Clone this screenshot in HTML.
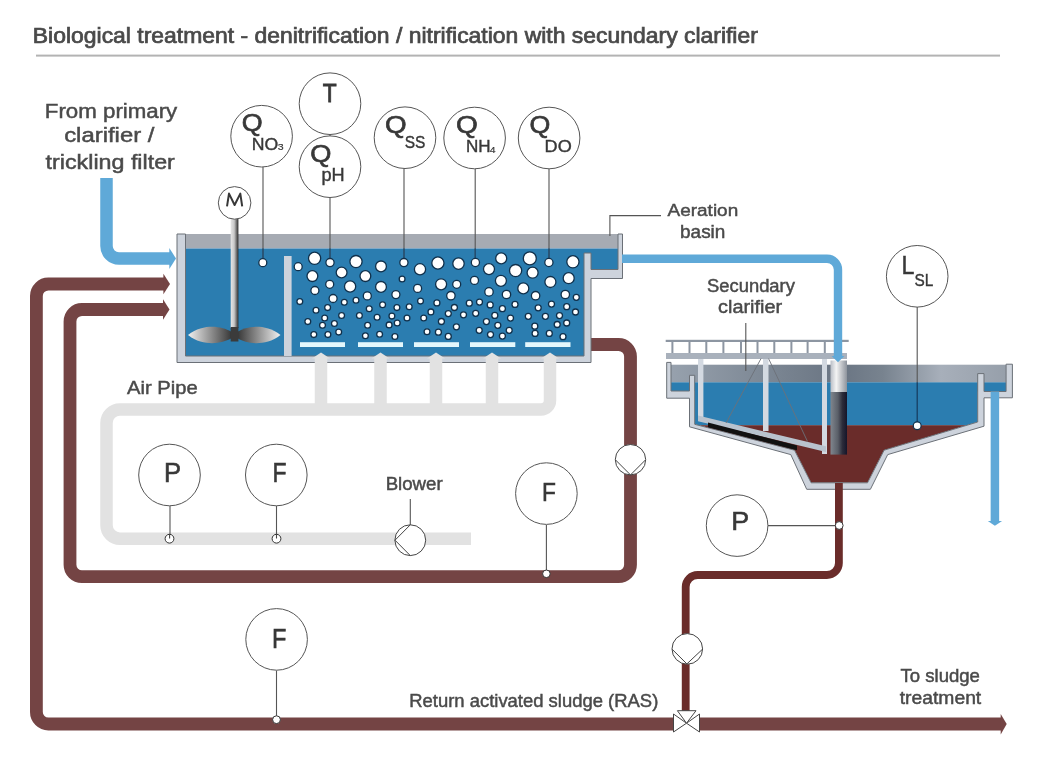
<!DOCTYPE html>
<html><head><meta charset="utf-8">
<style>
html,body{margin:0;padding:0;background:#fff;}
body{width:1050px;height:761px;overflow:hidden;position:relative;}
svg{position:absolute;left:0;top:0;will-change:transform;}
text{font-family:"Liberation Sans",sans-serif;fill:#4a4a4a;}
</style></head><body>
<svg width="1050" height="761" viewBox="0 0 1050 761">
<defs>
<linearGradient id="shaft" x1="0" x2="1" y1="0" y2="0">
<stop offset="0" stop-color="#e6e6e6"/><stop offset="0.45" stop-color="#c8c8c8"/><stop offset="1" stop-color="#2a2a2a"/>
</linearGradient>
<linearGradient id="bladeL" x1="0" x2="1" y1="0" y2="0">
<stop offset="0" stop-color="#f0f0f0"/><stop offset="1" stop-color="#3a3a3a"/>
</linearGradient>
<linearGradient id="bladeR" x1="1" x2="0" y1="0" y2="0">
<stop offset="0" stop-color="#f0f0f0"/><stop offset="1" stop-color="#3a3a3a"/>
</linearGradient>
<linearGradient id="cband" x1="0" x2="1" y1="0" y2="0">
<stop offset="0" stop-color="#9aa4b0"/><stop offset="0.35" stop-color="#77828f"/><stop offset="0.5" stop-color="#6a7583"/><stop offset="0.62" stop-color="#78838f"/><stop offset="0.78" stop-color="#a7afba"/><stop offset="1" stop-color="#939ca7"/>
</linearGradient>
<linearGradient id="colL" x1="0" x2="1" y1="0" y2="0">
<stop offset="0" stop-color="#b9bec6"/><stop offset="0.35" stop-color="#f4f4f4"/><stop offset="1" stop-color="#8d939c"/>
</linearGradient>
<linearGradient id="colD" x1="0" x2="1" y1="0" y2="0">
<stop offset="0" stop-color="#80868e"/><stop offset="0.45" stop-color="#5a5f68"/><stop offset="0.72" stop-color="#2c2c3a"/><stop offset="1" stop-color="#15152a"/>
</linearGradient>
<clipPath id="cin"><polygon points="671,364.4 1006.1,364.4 1006.1,391.5 977.7,391.5 977.7,422 884.1,450.2 867.5,482.8 811.1,482.8 794.5,450.2 694.7,424.3 694.7,391 671,391"/></clipPath>
</defs>

<!-- title -->
<rect x="36" y="54.6" width="964" height="2" fill="#b3b3b3"/>

<!-- brown loops -->
<g fill="none" stroke="#744444" stroke-width="12.8">
<path d="M164,284 H48.5 A12,12 0 0 0 36.4,296 V712 A12,12 0 0 0 48.5,724 H673.5 M699.5,724 H1001"/>
<path d="M590,344.5 H618.5 A12,12 0 0 1 630.5,356.5 V564.7 A12,12 0 0 1 618.5,576.7 H82 A12,12 0 0 1 70,564.7 V321.5 A12,12 0 0 1 82,309.5 H164"/>
</g>
<g fill="#744444">
<polygon points="163.4,273.7 170,284 163.4,294.3"/>
<polygon points="163,299.2 169.5,309.5 163,319.8"/>
<polygon points="1000.7,714 1006.7,724 1000.7,734.5"/>
</g>

<!-- blue pipes -->
<g fill="none" stroke="#5fa9d8">
<path d="M106.5,178 V246 A12.5,12.5 0 0 0 119,258.5 H170" stroke-width="12.5"/>
</g>
<g fill="#5fa9d8">
<polygon points="169.3,248 176,258.5 169.3,269"/>
<polygon points="987.8,521 994.9,525.8 1002.1,521"/>
</g>

<!-- aeration basin -->
<rect x="185.5" y="234" width="432.5" height="14.5" fill="#a6abb3"/>
<rect x="185.5" y="248.5" width="398.5" height="107.5" fill="#2b7db0"/>
<rect x="584" y="248.5" width="34" height="21" fill="#2b7db0"/>
<rect x="185.5" y="248" width="432.5" height="1" fill="#7fa9c8"/>
<path d="M177,234 H185.5 V356 H584 V253 H591 V269.5 H618 V234 H622.5 V278.5 H591 V362.5 H177 Z" fill="#cdd3dc" stroke="#6b7077" stroke-width="1"/>
<rect x="284" y="256" width="7.6" height="100" fill="#cdd3dc"/>
<!-- diffusers -->
<g fill="#e4f7fc">
<rect x="300" y="342.2" width="45" height="4.8"/>
<rect x="358" y="342.2" width="45" height="4.8"/>
<rect x="414" y="342.2" width="45" height="4.8"/>
<rect x="470" y="342.2" width="45.3" height="4.8"/>
<rect x="525.2" y="342.2" width="45.3" height="4.8"/>
</g>
<!-- bubbles -->
<g fill="#fff" stroke="#10304b" stroke-width="1.3">
<circle cx="298.2" cy="266.7" r="4"/>
<circle cx="314.6" cy="258.3" r="6.1"/>
<circle cx="356" cy="261.6" r="6.1"/>
<circle cx="381" cy="266.4" r="5.4"/>
<circle cx="420" cy="269.3" r="5.6"/>
<circle cx="312.4" cy="276.1" r="5.4"/>
<circle cx="341.6" cy="272.5" r="5.4"/>
<circle cx="365.4" cy="276.1" r="5.4"/>
<circle cx="402.1" cy="279" r="2.9"/>
<circle cx="329.7" cy="284.3" r="4"/>
<circle cx="350.1" cy="286.5" r="5.6"/>
<circle cx="381" cy="286.9" r="5.4"/>
<circle cx="314.9" cy="290.5" r="4"/>
<circle cx="417.6" cy="288.4" r="4"/>
<circle cx="367.3" cy="295.9" r="4"/>
<circle cx="395.9" cy="294.6" r="4"/>
<circle cx="299.8" cy="301.6" r="2.9"/>
<circle cx="333.1" cy="298.5" r="4"/>
<circle cx="344.3" cy="302.2" r="2.9"/>
<circle cx="356" cy="300.3" r="2.9"/>
<circle cx="382.6" cy="304.7" r="2.9"/>
<circle cx="420.5" cy="301.1" r="2.9"/>
<circle cx="316" cy="310.3" r="2.9"/>
<circle cx="327.6" cy="307.6" r="2.9"/>
<circle cx="369.2" cy="308.7" r="2.9"/>
<circle cx="396.9" cy="307.6" r="2.9"/>
<circle cx="409.2" cy="306.7" r="2.9"/>
<circle cx="430.9" cy="311.9" r="2.9"/>
<circle cx="307.8" cy="321.6" r="2.9"/>
<circle cx="324.7" cy="318" r="2.9"/>
<circle cx="341.6" cy="315.5" r="2.9"/>
<circle cx="359.4" cy="315.5" r="2.9"/>
<circle cx="377.1" cy="317.3" r="2.9"/>
<circle cx="391.9" cy="316.1" r="2.9"/>
<circle cx="407" cy="318" r="2.9"/>
<circle cx="423.7" cy="318" r="2.9"/>
<circle cx="322.5" cy="325.2" r="2.9"/>
<circle cx="334.4" cy="323.5" r="2.9"/>
<circle cx="367.6" cy="325.3" r="2.9"/>
<circle cx="389.1" cy="324.9" r="2.9"/>
<circle cx="397.2" cy="323" r="2.9"/>
<circle cx="313.8" cy="334.6" r="2.9"/>
<circle cx="327.9" cy="334.6" r="2.9"/>
<circle cx="338.7" cy="332.1" r="2.9"/>
<circle cx="365.4" cy="335.8" r="2.9"/>
<circle cx="379.6" cy="334.3" r="2.9"/>
<circle cx="394.9" cy="336.5" r="2.9"/>
<circle cx="427" cy="331.7" r="2.9"/>
<circle cx="437.9" cy="263" r="6.1"/>
<circle cx="458.5" cy="263.6" r="5.7"/>
<circle cx="501.2" cy="258.4" r="5.5"/>
<circle cx="489" cy="269.1" r="5.5"/>
<circle cx="515.6" cy="270.6" r="6.1"/>
<circle cx="529.8" cy="258.4" r="6.5"/>
<circle cx="532.6" cy="272.7" r="5.5"/>
<circle cx="572.9" cy="261.8" r="6.1"/>
<circle cx="441.1" cy="284.3" r="5.5"/>
<circle cx="456.7" cy="284.3" r="4"/>
<circle cx="474.5" cy="280.4" r="4"/>
<circle cx="500.9" cy="280.8" r="5.5"/>
<circle cx="523.3" cy="288.4" r="5.5"/>
<circle cx="550.4" cy="282" r="5.5"/>
<circle cx="568.7" cy="278.2" r="5.5"/>
<circle cx="450.9" cy="295.7" r="4.2"/>
<circle cx="489" cy="291.9" r="4.2"/>
<circle cx="506.5" cy="294.5" r="4.2"/>
<circle cx="535.6" cy="295.7" r="4.2"/>
<circle cx="565.3" cy="294.5" r="4.2"/>
<circle cx="576.3" cy="297.3" r="3"/>
<circle cx="436.9" cy="302.9" r="3"/>
<circle cx="454.4" cy="307.5" r="3"/>
<circle cx="469.3" cy="303.2" r="3"/>
<circle cx="479.5" cy="302.1" r="3"/>
<circle cx="490.2" cy="304.9" r="3"/>
<circle cx="515" cy="304.4" r="3"/>
<circle cx="551.5" cy="304.1" r="3"/>
<circle cx="566.7" cy="306.7" r="3"/>
<circle cx="448.3" cy="313.6" r="3"/>
<circle cx="463.5" cy="314.8" r="3"/>
<circle cx="475.7" cy="313.3" r="3"/>
<circle cx="502.4" cy="308.7" r="3"/>
<circle cx="494.8" cy="315.4" r="3"/>
<circle cx="510.5" cy="318.1" r="3"/>
<circle cx="538.2" cy="307.8" r="3"/>
<circle cx="528.3" cy="316.3" r="3"/>
<circle cx="545.4" cy="316.3" r="3"/>
<circle cx="559.5" cy="315.6" r="3"/>
<circle cx="575.5" cy="312" r="3"/>
<circle cx="441.4" cy="321.5" r="3"/>
<circle cx="456.4" cy="326.8" r="3"/>
<circle cx="486.4" cy="321.6" r="3"/>
<circle cx="497.8" cy="325.3" r="3"/>
<circle cx="509.2" cy="330.3" r="3"/>
<circle cx="534.8" cy="326.2" r="3"/>
<circle cx="557.2" cy="324.5" r="3"/>
<circle cx="566.7" cy="323" r="3"/>
<circle cx="438.4" cy="332.2" r="3"/>
<circle cx="448.3" cy="336.4" r="3"/>
<circle cx="479.2" cy="330.3" r="3"/>
<circle cx="490.5" cy="334.6" r="3"/>
<circle cx="502.4" cy="336.1" r="3"/>
<circle cx="535.1" cy="333.4" r="3"/>
<circle cx="549.3" cy="333.4" r="3"/>
<circle cx="563" cy="336.7" r="3"/>
</g>
<!-- mixer -->
<rect x="230.7" y="219" width="7.7" height="109" fill="url(#shaft)"/>
<path d="M188,335 C196,328.5 205,326.8 212,326.8 C220,326.8 226,329 231,331.5 L231,338.5 C226,341 220,343.2 212,343.2 C205,343.2 196,341.5 188,335 Z" fill="url(#bladeL)"/>
<path d="M280.5,335 C272.5,328.5 263.5,326.8 256.5,326.8 C248.5,326.8 242.5,329 238,331.5 L238,338.5 C242.5,341 248.5,343.2 256.5,343.2 C263.5,343.2 272.5,341.5 280.5,335 Z" fill="url(#bladeR)"/>
<rect x="230.7" y="327" width="7.7" height="14.5" fill="#3b3b3b"/>

<!-- air pipe -->
<g fill="none" stroke="#e2e2e2" stroke-width="12.5">
<path d="M471,538.7 H120 A13.5,13.5 0 0 1 106.5,525.2 V423 A13.5,13.5 0 0 1 120,409.5 H541 A9,9 0 0 0 550,400.5 V358"/>
<path d="M321,409.5 V358 M380.5,409.5 V358 M436,409.5 V358 M492,409.5 V358"/>
</g>
<g fill="#e2e2e2">
<polygon points="312,358.5 321,352.5 330,358.5"/>
<polygon points="371.5,358.5 380.5,352.5 389.5,358.5"/>
<polygon points="427,358.5 436,352.5 445,358.5"/>
<polygon points="483,358.5 492,352.5 501,358.5"/>
<polygon points="541,358.5 550,352.5 559,358.5"/>
</g>

<!-- sensor lines & balls -->
<g stroke="#555" stroke-width="1.1">
<line x1="263" y1="167" x2="263" y2="259"/>
<line x1="330" y1="134.5" x2="330" y2="136"/>
<line x1="330" y1="197.5" x2="330" y2="259"/>
<line x1="404" y1="168.5" x2="404" y2="259"/>
<line x1="475.2" y1="169" x2="475.2" y2="259"/>
<line x1="549" y1="169" x2="549" y2="259"/>
<line x1="170" y1="506" x2="170" y2="534.5"/>
<line x1="276.5" y1="506" x2="276.5" y2="534.5"/>
<line x1="410.3" y1="499" x2="410.3" y2="525"/>
<line x1="546.4" y1="525" x2="546.4" y2="570"/>
<line x1="276.5" y1="670.5" x2="276.5" y2="716"/>
<line x1="768" y1="525.6" x2="835.5" y2="525.6"/>
<polyline points="661,215.6 609.9,215.6 609.9,236" fill="none"/>
</g>
<g stroke="#184a73" stroke-width="1.2">
<line x1="263" y1="248.5" x2="263" y2="259"/>
<line x1="330" y1="248.5" x2="330" y2="259"/>
<line x1="404" y1="248.5" x2="404" y2="259"/>
<line x1="475.2" y1="248.5" x2="475.2" y2="259"/>
<line x1="549" y1="248.5" x2="549" y2="259"/>
</g>
<g fill="#fff" stroke="#10304b" stroke-width="1.3">
<circle cx="262.8" cy="262.7" r="4"/>
<circle cx="330" cy="262.6" r="4.1"/>
<circle cx="403.9" cy="262.6" r="4.1"/>
<circle cx="475.4" cy="262.5" r="4.1"/>
<circle cx="548.9" cy="262.5" r="4.1"/>
</g>

<!-- clarifier -->
<g>
<rect x="665.7" y="339.8" width="183" height="2.2" fill="#8d96a2"/>
<g fill="#8d96a2">
<rect x="671.4" y="342" width="2" height="11"/><rect x="688.5" y="342" width="2" height="11"/><rect x="705.3" y="342" width="2" height="11"/>
<rect x="722.4" y="342" width="2" height="11"/><rect x="740" y="342" width="2" height="11"/><rect x="756.5" y="342" width="2" height="11"/>
<rect x="773.3" y="342" width="2" height="11"/><rect x="790.4" y="342" width="2" height="11"/><rect x="806.6" y="342" width="2" height="11"/>
<rect x="823.8" y="342" width="2" height="11"/>
</g>
<rect x="666" y="353" width="181" height="6" fill="#a9b1bc"/>
<g clip-path="url(#cin)">
<rect x="660" y="364.4" width="360" height="18" fill="url(#cband)"/>
<rect x="660" y="382.3" width="360" height="43" fill="#2b7db0"/>
<rect x="660" y="425.2" width="360" height="70" fill="#6a2c2a"/>
</g>
<polygon points="666.7,362.4 671,362.4 671,391 689.5,391 689.5,375.3 694.7,375.3 694.7,424.3 794.5,450.2 811.1,482.8 867.5,482.8 884.1,450.2 977.7,422 977.7,373.6 984,373.6 984,391.5 1006.1,391.5 1006.1,364.2 1012.4,364.2 1012.4,397.8 984,397.8 984,426.2 887.7,454.6 870.4,489.3 806.7,489.3 790.8,454.6 689.5,426.8 689.5,398.2 666.7,398.2" fill="#cdd3dc" stroke="#6b7077" stroke-width="1"/>
<!-- posts -->
<g fill="#d3d9e1">
<rect x="698" y="359" width="5.4" height="61"/>
<rect x="763" y="359" width="5.5" height="72"/>
<rect x="822" y="359" width="5" height="95"/>
</g>
<polygon points="698,415.6 826,446.2 826,452 698,421.2" fill="#b9c3ce"/>
<polygon points="708,422.5 797,445.5 797,450.2 708,427.2" fill="#111"/>
<g stroke="#6c7178" stroke-width="0.9">
<line x1="761" y1="358.6" x2="726" y2="423"/>
<line x1="768.6" y1="358.6" x2="807.5" y2="441.5"/>
</g>
<rect x="830.5" y="360.5" width="16.5" height="31.5" fill="url(#colL)"/>
<rect x="830.5" y="392" width="16.5" height="62.6" fill="url(#colD)"/>
<polygon points="831.6,356 838,362.3 844.4,356" fill="#5fa9d8"/>
<g fill="none" stroke="#5fa9d8">
<path d="M622,258.8 H827 A11,11 0 0 1 838,269.8 V357" stroke-width="8.4"/>
<path d="M994.9,391.5 V521.5" stroke-width="8.5"/>
</g>
<line x1="917.2" y1="307" x2="917.2" y2="382.5" stroke="#555" stroke-width="1.1"/>
<line x1="917.2" y1="382.3" x2="917.2" y2="422" stroke="#163a5c" stroke-width="1.2"/>
<line x1="745.8" y1="323" x2="745.8" y2="371" stroke="#555" stroke-width="1.1"/>
<circle cx="917.2" cy="425.8" r="3.9" fill="#fff" stroke="#14324c" stroke-width="1.2"/>
</g>

<!-- small brown pipes -->
<path d="M838.9,483 V563 A12,12 0 0 1 826.9,575 H697.7 A12,12 0 0 0 685.7,587 V712" fill="none" stroke="#6a2c2a" stroke-width="7.8"/>

<!-- pumps -->
<g fill="#fff" stroke="#444" stroke-width="1">
<circle cx="630.5" cy="459.7" r="15.2"/>
<polyline points="615.6,460 630.5,474.9 645.4,460" fill="none"/>
<circle cx="687.3" cy="648.9" r="15.3"/>
<polyline points="672.2,649.3 686.9,663.9 702.4,649.3" fill="none"/>
<circle cx="410.3" cy="540.2" r="15.4"/>
<polyline points="410.3,524.8 395,540.2 410.3,555.6" fill="none"/>
<!-- valve -->
<polygon points="673.5,714 686.5,723.2 673.5,732"/>
<polygon points="699.5,714 686.5,723.2 699.5,732"/>
<polygon points="677.4,710.7 696,710.7 686.5,723.2"/>
</g>

<!-- small sensor balls on pipes -->
<g fill="#fff" stroke="#333" stroke-width="1">
<circle cx="169.5" cy="538.7" r="4.4"/>
<circle cx="276.5" cy="538.7" r="4.4"/>
<circle cx="546.4" cy="573.8" r="3.8"/>
<circle cx="276.5" cy="719.7" r="3.9"/>
<circle cx="839.2" cy="525.5" r="3.9"/>
</g>
<g stroke="#444" stroke-width="1.1">
<line x1="169.6" y1="534" x2="169.6" y2="538.5"/>
<line x1="276.5" y1="534" x2="276.5" y2="538.5"/>
</g>

<!-- instrument circles -->
<circle cx="261.6" cy="136.2" r="30.8" fill="#fff" stroke="#555" stroke-width="1"/>
<circle cx="330" cy="103.7" r="30.8" fill="#fff" stroke="#555" stroke-width="1"/>
<circle cx="330" cy="166.7" r="30.8" fill="#fff" stroke="#555" stroke-width="1"/>
<circle cx="405" cy="137.7" r="30.8" fill="#fff" stroke="#555" stroke-width="1"/>
<circle cx="474.6" cy="138" r="30.8" fill="#fff" stroke="#555" stroke-width="1"/>
<circle cx="549.1" cy="138" r="30.8" fill="#fff" stroke="#555" stroke-width="1"/>
<circle cx="917.2" cy="276.3" r="30.8" fill="#fff" stroke="#555" stroke-width="1"/>
<circle cx="234.6" cy="202.9" r="16.3" fill="#fff" stroke="#555" stroke-width="1"/>
<circle cx="169.5" cy="475" r="30.8" fill="#fff" stroke="#555" stroke-width="1"/>
<circle cx="276.3" cy="475" r="30.8" fill="#fff" stroke="#555" stroke-width="1"/>
<circle cx="546.4" cy="493.6" r="30.8" fill="#fff" stroke="#555" stroke-width="1"/>
<circle cx="276.6" cy="639.4" r="30.8" fill="#fff" stroke="#555" stroke-width="1"/>
<circle cx="737.1" cy="525.6" r="30.8" fill="#fff" stroke="#555" stroke-width="1"/>

<text transform="translate(32.801,42.752) scale(1.119,1.0329)" font-size="20.5" font-weight="normal" style="fill:#4a4a4a" stroke="#4a4a4a" stroke-width="0.7">Biological treatment - denitrification / nitrification with secundary clarifier</text>
<text transform="translate(44.833,117.829) scale(1.1732,1.0521)" font-size="19" font-weight="normal" style="fill:#4a4a4a" stroke="#4a4a4a" stroke-width="0.45">From primary</text>
<text transform="translate(64.171,142.476) scale(1.2573,1.0483)" font-size="19" font-weight="normal" style="fill:#4a4a4a" stroke="#4a4a4a" stroke-width="0.45">clarifier /</text>
<text transform="translate(45.6,168.666) scale(1.2256,1.0904)" font-size="19" font-weight="normal" style="fill:#4a4a4a" stroke="#4a4a4a" stroke-width="0.45">trickling filter</text>
<text transform="translate(667.579,215.751) scale(1.1155,0.9961)" font-size="17" font-weight="normal" style="fill:#4a4a4a" stroke="#4a4a4a" stroke-width="0.45">Aeration</text>
<text transform="translate(680.063,237.731) scale(1.1154,1.0745)" font-size="17" font-weight="normal" style="fill:#4a4a4a" stroke="#4a4a4a" stroke-width="0.45">basin</text>
<text transform="translate(707.059,291.854) scale(1.0815,1.0523)" font-size="17" font-weight="normal" style="fill:#4a4a4a" stroke="#4a4a4a" stroke-width="0.45">Secundary</text>
<text transform="translate(718.015,313.443) scale(1.1705,1.0275)" font-size="17" font-weight="normal" style="fill:#4a4a4a" stroke="#4a4a4a" stroke-width="0.45">clarifier</text>
<text transform="translate(126.98,394.157) scale(1.1219,1.0609)" font-size="18" font-weight="normal" style="fill:#4a4a4a" stroke="#4a4a4a" stroke-width="0.45">Air Pipe</text>
<text transform="translate(385.628,489.535) scale(1.0975,1.0588)" font-size="17" font-weight="normal" style="fill:#4a4a4a" stroke="#4a4a4a" stroke-width="0.45">Blower</text>
<text transform="translate(409.182,706.523) scale(1.0544,1.0606)" font-size="17.5" font-weight="normal" style="fill:#4a4a4a" stroke="#4a4a4a" stroke-width="0.45">Return activated sludge (RAS)</text>
<text transform="translate(900.527,682.392) scale(1.0917,1.0954)" font-size="17" font-weight="normal" style="fill:#4a4a4a" stroke="#4a4a4a" stroke-width="0.45">To sludge</text>
<text transform="translate(899.7,703.535) scale(1.1361,1.0609)" font-size="17" font-weight="normal" style="fill:#4a4a4a" stroke="#4a4a4a" stroke-width="0.45">treatment</text>
<text transform="translate(241.717,131.415) scale(1.0329,0.9305)" font-size="26" font-weight="normal" style="fill:#383838" stroke="#383838" stroke-width="0.7">Q</text>
<text transform="translate(251.702,150.253) scale(1.0383,0.9878)" font-size="17" font-weight="normal" style="fill:#383838" stroke="#383838" stroke-width="0.4">NO</text>
<text transform="translate(277.721,150.164) scale(1.1158,0.9429)" font-size="9.5" font-weight="normal" style="fill:#383838" stroke="#383838" stroke-width="0.2">3</text>
<text transform="translate(322.781,101.853) scale(0.8774,0.9892)" font-size="26" font-weight="normal" style="fill:#383838" stroke="#383838" stroke-width="0.8">T</text>
<text transform="translate(310.153,162.159) scale(1.0466,0.9221)" font-size="26" font-weight="normal" style="fill:#383838" stroke="#383838" stroke-width="0.7">Q</text>
<text transform="translate(321.533,181.105) scale(1.0667,1.0387)" font-size="17" font-weight="normal" style="fill:#383838" stroke="#383838" stroke-width="0.4">pH</text>
<text transform="translate(384.932,133.448) scale(1.0685,0.9432)" font-size="26" font-weight="normal" style="fill:#383838" stroke="#383838" stroke-width="0.7">Q</text>
<text transform="translate(404.644,147.951) scale(0.9116,0.9959)" font-size="17" font-weight="normal" style="fill:#383838" stroke="#383838" stroke-width="0.4">SS</text>
<text transform="translate(456.121,133.493) scale(1.0795,0.9347)" font-size="26" font-weight="normal" style="fill:#383838" stroke="#383838" stroke-width="0.7">Q</text>
<text transform="translate(465.944,152.15) scale(1.0045,1.0)" font-size="17" font-weight="normal" style="fill:#383838" stroke="#383838" stroke-width="0.4">NH</text>
<text transform="translate(489.8,153.464) scale(1.0857,0.9429)" font-size="9.5" font-weight="normal" style="fill:#383838" stroke="#383838" stroke-width="0.2">4</text>
<text transform="translate(529.57,133.059) scale(1.0301,0.9221)" font-size="26" font-weight="normal" style="fill:#383838" stroke="#383838" stroke-width="0.7">Q</text>
<text transform="translate(544.57,152.149) scale(1.0638,1.0041)" font-size="17" font-weight="normal" style="fill:#383838" stroke="#383838" stroke-width="0.4">DO</text>
<text transform="translate(901.613,273.648) scale(0.8936,1.0082)" font-size="26" font-weight="normal" style="fill:#383838" stroke="#383838" stroke-width="0.5">L</text>
<text transform="translate(914.448,286.157) scale(0.905,0.9714)" font-size="17" font-weight="normal" style="fill:#383838" stroke="#383838" stroke-width="0.4">SL</text>
<text transform="translate(164.102,482.253) scale(0.9492,0.9895)" font-size="27" font-weight="normal" style="fill:#383838" stroke="#383838" stroke-width="0.6">P</text>
<text transform="translate(272.498,482.45) scale(0.8509,1.0)" font-size="27" font-weight="normal" style="fill:#383838" stroke="#383838" stroke-width="0.6">F</text>
<text transform="translate(542.013,501.357) scale(0.8436,0.9737)" font-size="27" font-weight="normal" style="fill:#383838" stroke="#383838" stroke-width="0.6">F</text>
<text transform="translate(271.955,647.75) scale(0.8727,1.0)" font-size="27" font-weight="normal" style="fill:#383838" stroke="#383838" stroke-width="0.6">F</text>
<text transform="translate(731.307,529.754) scale(0.9966,0.9842)" font-size="27" font-weight="normal" style="fill:#383838" stroke="#383838" stroke-width="0.6">P</text>
<path d="M227,206.4 L229,193.6 L234.6,205 L240.3,193.6 L242.2,206.4" fill="none" stroke="#383838" stroke-width="2" stroke-linejoin="round" stroke-linecap="butt"/>
</svg>
</body></html>
